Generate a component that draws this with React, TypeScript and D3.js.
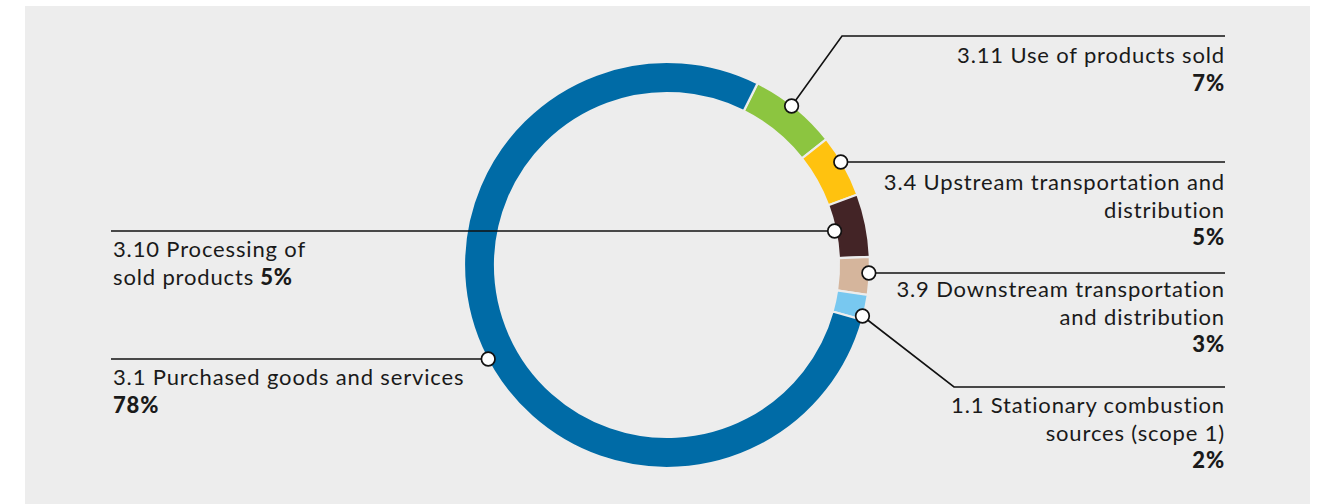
import React from "react";
import * as d3 from "d3";

const categories = [
  "3.11 Use of products sold",
  "3.4 Upstream transportation and distribution",
  "3.10 Processing of sold products",
  "3.9 Downstream transportation and distribution",
  "1.1 Stationary combustion sources (scope 1)",
  "3.1 Purchased goods and services",
];
const values = [7, 5, 5, 3, 2, 78];
const colors = ["#8cc540", "#ffc20f", "#432426", "#d5b59c", "#78c8f0", "#006ba6"];
const labelLines = [
  ["3.11 Use of products sold"],
  ["3.4 Upstream transportation and", "distribution"],
  ["3.10 Processing of", "sold products"],
  ["3.9 Downstream transportation", "and distribution"],
  ["1.1 Stationary combustion", "sources (scope 1)"],
  ["3.1 Purchased goods and services"],
];

const W = 1326;
const H = 504;
const cx = 667;
const cy = 265;
const rOuter = 203;
const rInner = 172;
const START = (26.5 * Math.PI) / 180;

type Lay = {
  side: "left" | "right";
  dotSide: "left" | "right";
  dotY: number;
  dotR: number;
  elbow?: [number, number];
  lineY: number;
  textY: number;
  inlinePct?: boolean;
};
const layout: Lay[] = [
  { side: "right", dotSide: "right", dotY: 106, dotR: 202, elbow: [842, 36], lineY: 36, textY: 63 },
  { side: "right", dotSide: "right", dotY: 162, dotR: 202, lineY: 162, textY: 190 },
  { side: "left", dotSide: "right", dotY: 231, dotR: 171, lineY: 231, textY: 257, inlinePct: true },
  { side: "right", dotSide: "right", dotY: 273, dotR: 202, lineY: 273, textY: 297 },
  { side: "right", dotSide: "right", dotY: 316, dotR: 202, elbow: [954, 387], lineY: 387, textY: 413 },
  { side: "left", dotSide: "left", dotY: 359, dotR: 202, lineY: 359, textY: 385 },
];
const rightX = 1225;
const leftLineX = 111;
const leftTextX = 113;
const lineH = 27.5;
const FONT = "Lato, 'Noto Sans', sans-serif";

export default function App() {
  const pie = d3
    .pie<number>()
    .sort(null)
    .value((d) => d)
    .startAngle(START)
    .endAngle(START + 2 * Math.PI);
  const arcs = pie(values);
  const arc = d3.arc<d3.PieArcDatum<number>>().innerRadius(rInner).outerRadius(rOuter);

  return (
    <svg
      width={W}
      height={H}
      style={{ position: "absolute", left: 0, top: 0 }}
      fontFamily={FONT}
    >
      <rect x={25} y={6} width={1285} height={H - 6} fill="#ededed" />
      <g transform={`translate(${cx},${cy})`}>
        {arcs.map((a, i) => (
          <path key={i} d={arc(a) || ""} fill={colors[i]} stroke="#ededed" strokeWidth={2.2} />
        ))}
      </g>
      {layout.map((l, i) => {
        const dy = l.dotY - cy;
        const dx = Math.sqrt(Math.max(0, l.dotR * l.dotR - dy * dy));
        const dotX = l.dotSide === "right" ? cx + dx : cx - dx;
        let pts: [number, number][];
        if (l.side === "right") {
          pts = l.elbow
            ? [[dotX, l.dotY], l.elbow, [rightX, l.lineY]]
            : [[dotX, l.dotY], [rightX, l.lineY]];
        } else {
          pts = [[leftLineX, l.lineY], [dotX, l.dotY]];
        }
        const line = d3.line();
        const lines = labelLines[i];
        const pct = `${values[i]}%`;
        const anchor = l.side === "right" ? "end" : "start";
        const tx = l.side === "right" ? rightX : leftTextX;
        return (
          <g key={i}>
            <path d={line(pts) || ""} fill="none" stroke="#111" strokeWidth={1.6} />
            <circle cx={dotX} cy={l.dotY} r={6.8} fill="#fff" stroke="#111" strokeWidth={1.7} />
            <text textAnchor={anchor} fontSize={22} letterSpacing={0.85} fill="#1a1a1a">
              {lines.map((t, j) => (
                <tspan key={j} x={tx} y={l.textY + j * lineH}>
                  {t}
                  {l.inlinePct && j === lines.length - 1 ? (
                    <tspan fontWeight={900}>{" " + pct}</tspan>
                  ) : null}
                </tspan>
              ))}
              {!l.inlinePct ? (
                <tspan x={tx} y={l.textY + lines.length * lineH} fontWeight={900}>
                  {pct}
                </tspan>
              ) : null}
            </text>
          </g>
        );
      })}
    </svg>
  );
}
